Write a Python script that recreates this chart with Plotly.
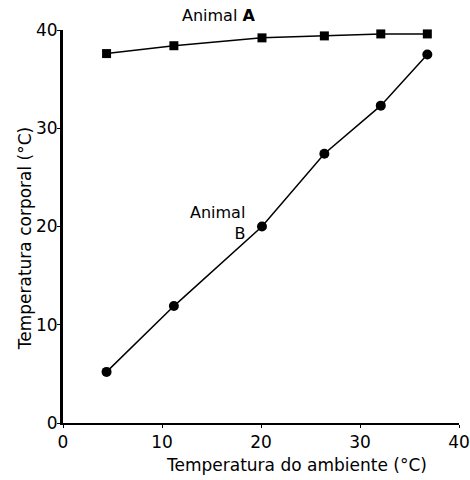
import plotly.graph_objects as go

temp_ambiente = [4.4, 11.2, 20.1, 26.4, 32.1, 36.8]
animal_a = [37.6, 38.4, 39.2, 39.4, 39.6, 39.6]
animal_b = [5.2, 11.9, 20.0, 27.4, 32.3, 37.5]
tick_vals = [0, 10, 20, 30, 40]

FONT = "DejaVu Sans"

fig = go.Figure()
fig.add_trace(go.Scatter(x=temp_ambiente, y=animal_a, mode="lines+markers",
                         line=dict(color="black", width=1.5),
                         marker=dict(symbol="square", size=9, color="black"),
                         cliponaxis=False, showlegend=False))
fig.add_trace(go.Scatter(x=temp_ambiente, y=animal_b, mode="lines+markers",
                         line=dict(color="black", width=1.5),
                         marker=dict(symbol="circle", size=10, color="black"),
                         cliponaxis=False, showlegend=False))

fig.update_layout(
    width=470, height=480,
    margin=dict(l=63, r=11, t=30, b=57),
    paper_bgcolor="white", plot_bgcolor="white",
    font=dict(family=FONT, color="black"),
    xaxis=dict(range=[0, 40], tickvals=tick_vals, showgrid=False, zeroline=False,
               showline=True, linecolor="black", linewidth=2, automargin=False,
               ticks="outside", ticklen=3, tickcolor="black", tickwidth=1,
               ticklabelstandoff=0, ticklabeloverflow="allow",
               tickfont=dict(size=17, family=FONT)),
    yaxis=dict(range=[0, 40], tickvals=tick_vals, showgrid=False, zeroline=False,
               showline=True, linecolor="black", linewidth=3, automargin=False,
               ticks="outside", ticklen=3, tickcolor="black", tickwidth=1,
               ticklabelstandoff=-4, ticklabeloverflow="allow",
               tickfont=dict(size=17, family=FONT)),
    annotations=[
        dict(text="Temperatura do ambiente (°C)", xref="paper", yref="paper",
             x=0.59, y=-0.107, xanchor="center", yanchor="middle", showarrow=False,
             font=dict(size=17, family=FONT)),
        dict(text="Temperatura corporal (°C)", xref="paper", yref="paper",
             x=-0.096, y=0.47, xanchor="center", yanchor="middle",
             textangle=-90, showarrow=False, font=dict(size=17, family=FONT)),
        dict(text="Animal <b>A</b>", xref="paper", yref="paper",
             x=0.393, y=1.038, xanchor="center", yanchor="middle", showarrow=False,
             font=dict(size=16, family=FONT)),
        dict(text="Animal<br>B", xref="paper", yref="paper",
             x=0.465, y=0.51, xanchor="right", yanchor="middle", align="right",
             showarrow=False, font=dict(size=16, family=FONT)),
    ],
)

fig.write_html("out.html", config={"displayModeBar": False},
               post_script="document.body.style.margin='0';")
